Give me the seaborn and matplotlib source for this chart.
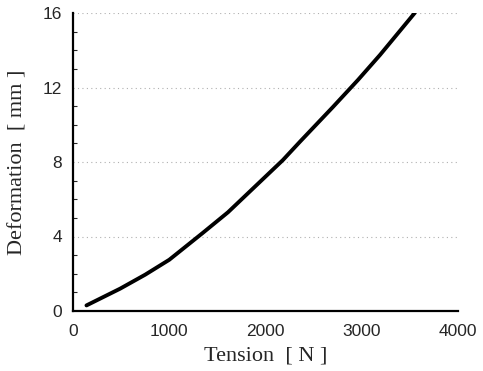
import matplotlib
matplotlib.use("Agg")
import matplotlib.pyplot as plt
import seaborn as sns
import pandas as pd
from matplotlib.ticker import MultipleLocator

tension = [140, 490, 750, 1000, 1350, 1610, 2180, 2360, 2700, 2960, 3190, 3550]
deformation = [0.3, 1.2, 1.95, 2.75, 4.2, 5.3, 8.1, 9.1, 10.95, 12.4, 13.75, 16.0]
x_ticks = [0, 1000, 2000, 3000, 4000]
y_ticks = [0, 4, 8, 12, 16]

df = pd.DataFrame({"Tension": tension, "Deformation": deformation})

sns.set_style("white")
fig = plt.figure(figsize=(4.83, 3.71), dpi=100)
ax = fig.add_axes([73 / 483, 1 - 311 / 371, (458 - 73) / 483, (311 - 13) / 371])

sns.lineplot(data=df, x="Tension", y="Deformation", ax=ax, color="black", linewidth=2.8)

ax.set_xlim(0, 4000)
ax.set_ylim(0, 16)
ax.set_xticks(x_ticks)
ax.set_yticks(y_ticks)
ax.yaxis.set_minor_locator(MultipleLocator(1))
ax.tick_params(axis="x", length=0, pad=9, labelsize=12.5)
ax.tick_params(axis="y", which="major", direction="inout", length=10, width=1.2, labelsize=12.5, pad=3)
ax.tick_params(axis="y", which="minor", direction="in", length=3, width=0.8, left=True)
for lbl in ax.get_xticklabels() + ax.get_yticklabels():
    lbl.set_fontfamily("Liberation Sans")

ax.grid(axis="y", color="#b0b0b0", linestyle=(0, (1, 3)), linewidth=0.8)
ax.grid(axis="x", visible=False)
for s in ["top", "right"]:
    ax.spines[s].set_visible(False)
for s in ["left", "bottom"]:
    ax.spines[s].set_color("black")
    ax.spines[s].set_linewidth(1.6)

ax.set_xlabel("Tension  [ N ]", fontfamily="Liberation Serif", fontsize=16, labelpad=6)
ax.set_ylabel("Deformation  [ mm ]", fontfamily="Liberation Serif", fontsize=16, labelpad=11)

fig.savefig("out.png", dpi=100)
